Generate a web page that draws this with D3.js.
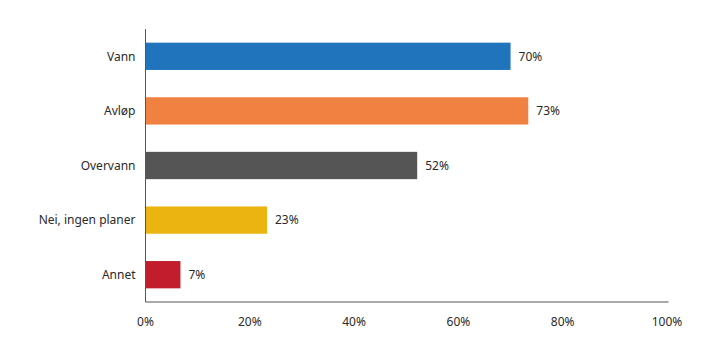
<!DOCTYPE html>
<html>
<head>
<meta charset="utf-8">
<script src="https://cdn.jsdelivr.net/npm/d3@7"></script>
<style>
  body { margin: 0; background: #fff; }
  text { font-family: "Noto Sans", sans-serif; font-size: 12px; fill: #2a2a2a; }
</style>
</head>
<body>
<script>
// chart data (bar lengths, labels rounded)
var categories = ["Vann", "Avløp", "Overvann", "Nei, ingen planer", "Annet"];
var values = [70, 73.4, 52.1, 23.3, 6.7];
var colors = ["#1f74bc", "#f08140", "#555555", "#ebb411", "#c11d2c"];
var ticks = [0, 20, 40, 60, 80, 100];

var w = 719, h = 363;
var marginLeft = 145.5, marginRight = 667, plotTop = 29, plotBottom = 302;

var svg = d3.select("body").append("svg")
    .attr("width", w)
    .attr("height", h);

var x = d3.scaleLinear().domain([0, 100]).range([marginLeft, marginRight]);
var y = d3.scaleBand().domain(categories).range([plotTop, plotBottom]).paddingInner(0.5).paddingOuter(0.25);

// bars
svg.selectAll("rect")
    .data(values)
    .enter()
    .append("rect")
    .attr("x", x(0))
    .attr("y", function(d, i) { return y(categories[i]); })
    .attr("width", function(d) { return x(d) - x(0); })
    .attr("height", y.bandwidth())
    .attr("fill", function(d, i) { return colors[i]; });

// value labels
svg.selectAll("text.val")
    .data(values)
    .enter()
    .append("text")
    .attr("class", "val")
    .attr("x", function(d) { return x(d) + 8; })
    .attr("y", function(d, i) { return y(categories[i]) + y.bandwidth() / 2; })
    .attr("dy", "0.35em")
    .text(function(d) { return Math.round(d) + "%"; });

// category labels
svg.selectAll("text.cat")
    .data(categories)
    .enter()
    .append("text")
    .attr("class", "cat")
    .attr("x", marginLeft - 10)
    .attr("y", function(d) { return y(d) + y.bandwidth() / 2; })
    .attr("dy", "0.35em")
    .attr("text-anchor", "end")
    .text(function(d) { return d; });

// axes lines
svg.append("line")
    .attr("x1", marginLeft).attr("x2", marginLeft)
    .attr("y1", plotTop).attr("y2", plotBottom)
    .attr("stroke", "#555").attr("stroke-width", 1);
svg.append("line")
    .attr("x1", marginLeft).attr("x2", x(100) + 1.5)
    .attr("y1", plotBottom).attr("y2", plotBottom)
    .attr("stroke", "#555").attr("stroke-width", 1);

// x tick labels
svg.selectAll("text.tick")
    .data(ticks)
    .enter()
    .append("text")
    .attr("class", "tick")
    .attr("x", function(d) { return x(d); })
    .attr("y", plotBottom + 24)
    .attr("text-anchor", "middle")
    .text(function(d) { return d + "%"; });
</script>
</body>
</html>
